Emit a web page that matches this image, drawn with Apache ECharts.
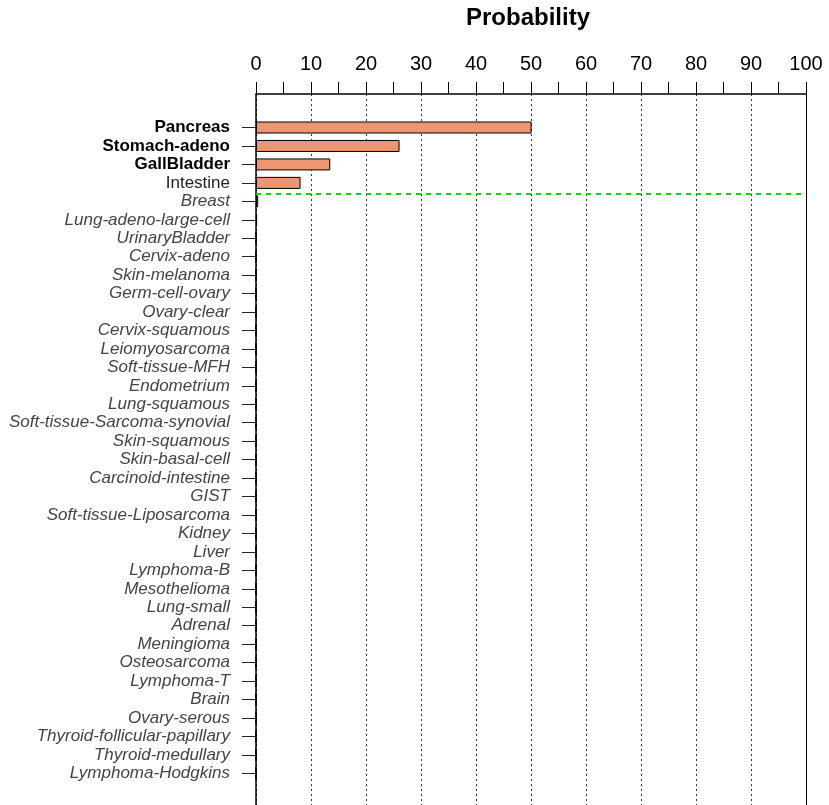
<!DOCTYPE html>
<html>
<head>
<meta charset="utf-8">
<script src="https://cdn.jsdelivr.net/npm/echarts@6/dist/echarts.min.js"></script>
<style>html,body{margin:0;padding:0;background:#fff}#c{width:829px;height:805px}</style>
</head>
<body>
<div id="c"></div>
<script>
const categories = ["Pancreas","Stomach-adeno","GallBladder","Intestine","Breast","Lung-adeno-large-cell","UrinaryBladder","Cervix-adeno","Skin-melanoma","Germ-cell-ovary","Ovary-clear","Cervix-squamous","Leiomyosarcoma","Soft-tissue-MFH","Endometrium","Lung-squamous","Soft-tissue-Sarcoma-synovial","Skin-squamous","Skin-basal-cell","Carcinoid-intestine","GIST","Soft-tissue-Liposarcoma","Kidney","Liver","Lymphoma-B","Mesothelioma","Lung-small","Adrenal","Meningioma","Osteosarcoma","Lymphoma-T","Brain","Ovary-serous","Thyroid-follicular-papillary","Thyroid-medullary","Lymphoma-Hodgkins"];
const probability = [50.1,26.1,13.5,8.1,0.4,0.2,0,0,0,0,0,0,0,0,0,0,0,0,0,0,0,0,0,0,0,0,0,0,0,0,0,0,0,0,0,0];
const xTicks = [0,10,20,30,40,50,60,70,80,90,100];
const cutoff = 4.1;        // rank position of the green separator (below 4th category)
const boldCount = 3;       // top categories drawn bold
const plainCount = 4;      // categories above the cutoff (others italic)

const chart = echarts.init(document.getElementById('c'), null, {renderer:'canvas'});
const FONT = '"Liberation Sans", Arial, sans-serif';
const band = 18.45;
const g1Top = 118.3;
const g0Top = 94, g0H = 711;
const padTop = (g1Top - g0Top) / band;
const LBL = 17;
const frameAxis = function (pos) {
  return {gridIndex: 0, type: 'value', position: pos, inverse: true, min: -padTop, max: g0H / band - padTop,
    axisLine: {show: true, onZero: false, lineStyle: {color: '#000', width: pos === 'left' ? 1.5 : 1}},
    axisTick: {show: false}, axisLabel: {show: false}, splitLine: {show: false}};
};

chart.setOption({
  animation: false,
  textStyle: {fontFamily: FONT},
  graphic: [{
    type: 'text', left: 531 - 65, top: 6,
    style: {text: 'Probability', font: 'bold 24px ' + FONT, fill: '#000'}
  }],
  grid: [
    {left: 256, right: 23, top: g0Top, height: g0H},
    {left: 256, right: 23, top: g1Top, height: band * categories.length}
  ],
  xAxis: [
    {gridIndex: 0, type: 'value', position: 'top', min: xTicks[0], max: xTicks[xTicks.length-1], interval: 10,
     axisLine: {show: true, onZero: false, lineStyle: {color: '#000', width: 1.5}},
     axisTick: {show: true, inside: false, length: 12, lineStyle: {color: '#000', width: 1}},
     minorTick: {show: true, splitNumber: 2, length: 12, lineStyle: {color: '#000', width: 1}},
     splitLine: {show: true, lineStyle: {color: '#333', type: [2, 3], width: 1}},
     axisLabel: {fontSize: 20, color: '#000', margin: 20, fontFamily: FONT}},
    {gridIndex: 1, type: 'value', min: xTicks[0], max: xTicks[xTicks.length-1], show: false}
  ],
  yAxis: [
    frameAxis('left'),
    {gridIndex: 1, type: 'category', inverse: true, data: categories,
     axisLine: {show: false},
     axisTick: {show: true, alignWithLabel: true, interval: 0, length: 14, lineStyle: {color: '#222', width: 1}},
     axisLabel: {interval: 0, margin: 26, fontSize: LBL, fontFamily: FONT,
       formatter: function (v, i) {
         const k = i < boldCount ? 'b' : (i < plainCount ? 'n' : 'it');
         return '{' + k + '|' + v + '}';
       },
       rich: {
         b: {fontWeight: 'bold', fontSize: LBL, color: '#000', fontFamily: FONT},
         n: {fontSize: LBL, color: '#222', fontFamily: FONT},
         it: {fontStyle: 'italic', fontSize: LBL, color: '#444', fontFamily: FONT}
       }},
     splitLine: {show: false}},
    frameAxis('right')
  ],
  series: [
    {type: 'bar', xAxisIndex: 1, yAxisIndex: 1, data: probability, barWidth: 12,
     itemStyle: {color: '#EE9572', borderColor: '#000', borderWidth: 1}},
    {type: 'line', xAxisIndex: 0, yAxisIndex: 0, data: [], silent: true,
     markLine: {silent: true, symbol: 'none', label: {show: false},
       lineStyle: {color: '#00DD00', type: [5, 5], width: 2},
       data: [{yAxis: cutoff}]}}
  ]
});
</script>
</body>
</html>
